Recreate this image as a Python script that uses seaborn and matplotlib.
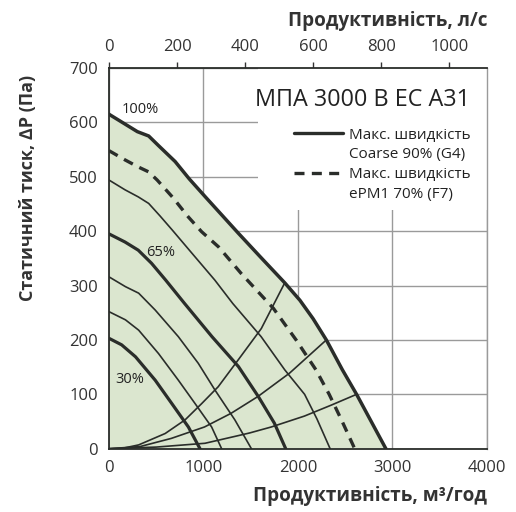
import numpy as np
import pandas as pd
import matplotlib.pyplot as plt
import seaborn as sns
from matplotlib.patches import Rectangle
from matplotlib.lines import Line2D

# fan curves: airflow (m3/h) vs static pressure (Pa)
x_100 = [0, 300, 420, 520, 700, 850, 1020, 1370, 1600, 1860, 2020, 2160, 2300, 2470, 2620, 2930]
y_100 = [615, 583, 575, 558, 528, 496, 463, 396, 353, 305, 273, 239, 200, 145, 100, 0]
x_f7 = [0, 170, 310, 420, 510, 670, 840, 980, 1160, 1400, 1740, 1980, 2190, 2330, 2460, 2600]
y_f7 = [548, 531, 518, 509, 494, 463, 426, 399, 371, 322, 258, 200, 145, 100, 53, 0]
x_t1 = [0, 170, 310, 420, 540, 670, 880, 1120, 1310, 1610, 1860, 2070, 2200, 2340]
y_t1 = [494, 476, 463, 451, 428, 402, 359, 310, 267, 206, 145, 100, 55, 0]
x_65 = [0, 170, 310, 450, 600, 800, 1090, 1370, 1580, 1750, 1870]
y_65 = [395, 380, 365, 341, 310, 267, 206, 151, 96, 47, 0]
x_t2 = [0, 174, 314, 489, 734, 945, 1121, 1332, 1507]
y_t2 = [316, 298, 286, 255, 206, 157, 108, 53, 0]
x_t3 = [0, 174, 314, 524, 734, 911, 1086, 1192]
y_t3 = [252, 237, 218, 175, 126, 83, 40, 0]
x_30 = [0, 134, 281, 489, 665, 840, 963]
y_30 = [203, 191, 169, 126, 83, 40, 0]

# system curves from the origin
x_s1 = [0, 150, 314, 595, 805, 981, 1156, 1366, 1612, 1860]
y_s1 = [0, 1, 7, 28, 53, 83, 114, 163, 221, 305]
x_s2 = [0, 330, 660, 1011, 1291, 1576, 1911, 2300]
y_s2 = [0, 4, 19, 40, 65, 96, 139, 200]
x_s3 = [0, 500, 1016, 1366, 1489, 1718, 2068, 2350, 2620]
y_s3 = [0, 3, 10, 24, 29, 40, 60, 80, 100]

x_ticks = [0, 1000, 2000, 3000, 4000]
y_ticks = [0, 100, 200, 300, 400, 500, 600, 700]
ls_ticks = [0, 200, 400, 600, 800, 1000]

title = "МПА 3000 В ЕС А31"
leg_solid = ["Макс. швидкість", "Coarse 90% (G4)"]
leg_dash = ["Макс. швидкість", "ePM1 70% (F7)"]

sns.set_theme(style="white")
plt.rcParams['font.family'] = ['Open Sans', 'DejaVu Sans']

dark = '#2a2d2a'
green = '#dbe6cf'
gridc = '#9a9a9a'

fig = plt.figure(figsize=(5.16, 5.12), dpi=100)
ax = fig.add_axes([0.2112, 0.1236, 0.7326, 0.7436])

ax.fill_between(x_100, y_100, 0, color=green, lw=0, zorder=1)

for xs, ys, lw in [(x_s1, y_s1, 1.2), (x_s2, y_s2, 1.2), (x_s3, y_s3, 1.2),
                   (x_t1, y_t1, 1.2), (x_t2, y_t2, 1.2), (x_t3, y_t3, 1.2),
                   (x_30, y_30, 2.3), (x_65, y_65, 2.3), (x_100, y_100, 2.5)]:
    sns.lineplot(x=xs, y=ys, ax=ax, color=dark, lw=lw, sort=False,
                 estimator=None, zorder=3)
sns.lineplot(x=x_f7, y=y_f7, ax=ax, color=dark, lw=2.4, sort=False,
             estimator=None, zorder=3)
ax.lines[-1].set_dashes([3, 2.2])

ax.set_xlim(0, 4000)
ax.set_ylim(0, 700)
ax.set_xticks(x_ticks)
ax.set_yticks(y_ticks)
ax.grid(True, color=gridc, lw=1.0)
ax.set_axisbelow(True)
ax.add_patch(Rectangle((1577, 439), 2423, 261, facecolor='white',
                       edgecolor='none', zorder=1.5))

for s in ['left', 'bottom', 'top']:
    ax.spines[s].set_color(dark)
    ax.spines[s].set_linewidth(1.3)
ax.spines['right'].set_color(gridc)
ax.spines['right'].set_linewidth(1.0)

ax.tick_params(axis='both', length=0, labelsize=12, colors='#333333')
ax.tick_params(axis='x', pad=8)
ax.tick_params(axis='y', pad=8)

top = ax.secondary_xaxis('top', functions=(lambda v: v / 3.6, lambda v: v * 3.6))
top.set_xticks(ls_ticks)
top.tick_params(length=4, width=1, colors='#333333', labelsize=12, pad=5)
top.spines['top'].set_visible(False)
top.set_xlabel("Продуктивність, л/с", loc='right', fontsize=13.6,
               fontweight='bold', color='#333333', labelpad=10)

ax.set_xlabel("Продуктивність, м³/год", loc='right', fontsize=13.6,
              fontweight='bold', color='#333333', labelpad=7)
ax.set_ylabel("Статичний тиск, ∆P (Па)", fontsize=13, fontweight='bold',
              color='#333333')
ax.yaxis.set_label_coords(-0.19, 0.685)

ax.text(132, 623, "100%", fontsize=10.5, color='#222222', va='center', zorder=4)
ax.text(395, 361, "65%", fontsize=10.5, color='#222222', va='center', zorder=4)
ax.text(68, 128, "30%", fontsize=10.5, color='#222222', va='center', zorder=4)

ax.text(0.955, 0.916, title, transform=ax.transAxes, ha='right', va='center',
        fontsize=16.8, color='#222222', zorder=4)

handles = [Line2D([], [], color=dark, lw=2.4),
           Line2D([], [], color='none'),
           Line2D([], [], color=dark, lw=2.4, dashes=[3, 2.2]),
           Line2D([], [], color='none')]
labels = leg_solid + leg_dash
leg = ax.legend(handles, labels, loc='upper left', bbox_to_anchor=(0.47, 0.863),
                frameon=False, fontsize=11, handlelength=3.2,
                handletextpad=0.4, labelspacing=0.3, borderpad=0)
for t in leg.get_texts():
    t.set_color('#222222')
leg.set_zorder(5)

fig.savefig('out.png', dpi=100)
